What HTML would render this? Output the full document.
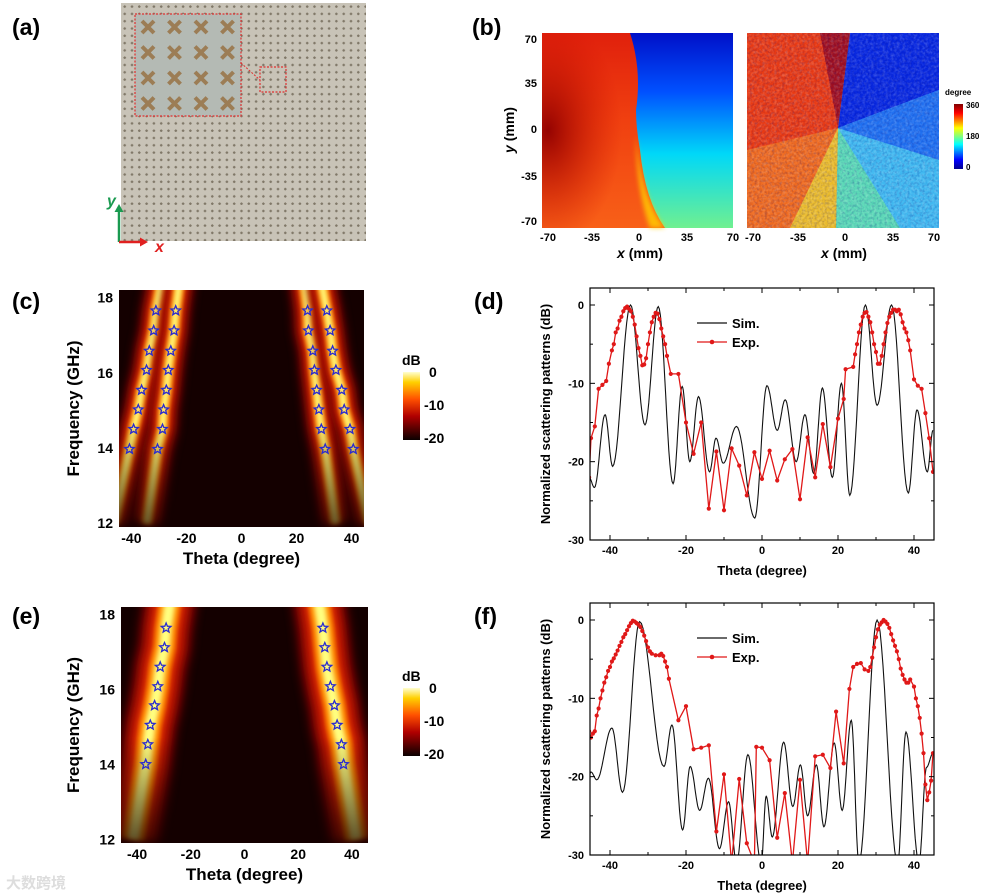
<!DOCTYPE html>
<html><head><meta charset="utf-8"><style>
html,body{margin:0;padding:0;background:#fff;}
svg{display:block;font-family:"Liberation Sans",Arial,sans-serif;font-weight:bold;}
</style></head><body>
<svg id="fig" width="994" height="895" viewBox="0 0 994 895" xmlns="http://www.w3.org/2000/svg">
<defs>
<pattern id="dots" x="121" y="3" width="7.3" height="7.3" patternUnits="userSpaceOnUse"><rect width="7.3" height="7.3" fill="#c8c3b7"/><path d="M2.4 3.6h2.6M3.7 2.3v2.6" stroke="#807868" stroke-width="1.3"/></pattern>
<pattern id="bigx" x="135" y="14" width="26.5" height="25.5" patternUnits="userSpaceOnUse"><rect width="26.5" height="25.5" fill="#b4bab4"/><path d="M7 7l12 12M19 7L7 19" stroke="#9c7d55" stroke-width="4"/></pattern>
<linearGradient id="jet" x1="0" y1="1" x2="0" y2="0"><stop offset="0" stop-color="#00008f"/><stop offset="0.14" stop-color="#0000ff"/><stop offset="0.38" stop-color="#00ffff"/><stop offset="0.5" stop-color="#80ff80"/><stop offset="0.63" stop-color="#ffff00"/><stop offset="0.86" stop-color="#ff0000"/><stop offset="1" stop-color="#800000"/></linearGradient>
<linearGradient id="hot" x1="0" y1="1" x2="0" y2="0"><stop offset="0" stop-color="#0a0000"/><stop offset="0.35" stop-color="#b00000"/><stop offset="0.6" stop-color="#ff5000"/><stop offset="0.85" stop-color="#ffd000"/><stop offset="1" stop-color="#ffffd0"/></linearGradient>
<linearGradient id="mapL1" x1="0" y1="0" x2="0" y2="1"><stop offset="0" stop-color="#e0200c"/><stop offset="0.45" stop-color="#f04010"/><stop offset="1" stop-color="#f86018"/></linearGradient>
<radialGradient id="mapDark" cx="0.05" cy="0.5" r="0.6"><stop offset="0" stop-color="#900000" stop-opacity="0.95"/><stop offset="1" stop-color="#d01000" stop-opacity="0"/></radialGradient>
<linearGradient id="mapR1" x1="0" y1="0" x2="0" y2="1"><stop offset="0" stop-color="#0010c8"/><stop offset="0.3" stop-color="#0050ff"/><stop offset="0.62" stop-color="#00d8f8"/><stop offset="1" stop-color="#70f090"/></linearGradient>
<linearGradient id="fadeG" x1="0" y1="0" x2="0" y2="1"><stop offset="0" stop-color="#fff"/><stop offset="0.55" stop-color="#fff"/><stop offset="1" stop-color="#404040"/></linearGradient>
<mask id="fadeM" maskContentUnits="userSpaceOnUse"><rect x="0" y="280" width="994" height="260" fill="url(#fadeG)"/><rect x="0" y="600" width="994" height="250" fill="url(#fadeG)"/></mask>
<filter id="blur3" filterUnits="userSpaceOnUse" x="0" y="250" width="500" height="645"><feGaussianBlur stdDeviation="5"/></filter>
<filter id="blur2" filterUnits="userSpaceOnUse" x="0" y="0" width="994" height="895"><feGaussianBlur stdDeviation="2.5"/></filter>
<filter id="noise" x="0" y="0" width="1" height="1"><feTurbulence type="fractalNoise" baseFrequency="0.35" numOctaves="2" seed="4"/><feColorMatrix type="matrix" values="0 0 0 0 1  0 0 0 0 1  0 0 0 0 1  1.2 0 0 0 -0.45"/></filter>
<filter id="noiseD" x="0" y="0" width="1" height="1"><feTurbulence type="fractalNoise" baseFrequency="0.4" numOctaves="2" seed="9"/><feColorMatrix type="matrix" values="0 0 0 0 0  0 0 0 0 0  0 0 0 0 0.2  1.3 0 0 0 -0.55"/></filter>
<clipPath id="clipD"><rect x="590" y="288" width="344" height="252"/></clipPath>
<clipPath id="clipF"><rect x="590" y="603" width="344" height="252"/></clipPath>
<clipPath id="clipC"><rect x="119" y="290" width="245" height="237"/></clipPath>
<clipPath id="clipE"><rect x="121" y="607" width="247" height="236"/></clipPath>
<clipPath id="clipMap"><rect x="747" y="33" width="192" height="195"/></clipPath>
</defs>

<g>
<text x="12" y="35" font-size="23">(a)</text>
<rect x="121" y="3" width="245" height="238" fill="url(#dots)"/>
<rect x="135" y="14" width="106" height="102" fill="url(#bigx)" stroke="#e03030" stroke-width="1.2" stroke-dasharray="2,1.5"/>
<rect x="260" y="67" width="26" height="25" fill="none" stroke="#e03030" stroke-width="1.2" stroke-dasharray="2,1.5"/>
<path d="M241 63L260 80" stroke="#e03030" stroke-width="1" stroke-dasharray="2,1.5"/>
<path d="M119 242V210" stroke="#1a9a50" stroke-width="2.5"/><path d="M114.5 212L119 204L123.5 212Z" fill="#1a9a50"/>
<path d="M119 242H142" stroke="#e02020" stroke-width="2.5"/><path d="M140 237.5L148 242L140 246.5Z" fill="#e02020"/>
<text x="107" y="206" font-size="16" font-style="italic" fill="#1a9a50">y</text>
<text x="155" y="252" font-size="16" font-style="italic" fill="#e02020">x</text>
</g>

<g>
<text x="472" y="35" font-size="23">(b)</text>
<g>
<rect x="542" y="33" width="191" height="195" fill="url(#mapR1)"/>
<path d="M542 33H630Q642 70 636 110Q636 128 640 150Q645 200 665 228H542Z" fill="url(#mapL1)"/>
<path d="M542 33H630Q642 70 636 110Q636 128 640 150Q645 200 665 228H542Z" fill="url(#mapDark)"/>
<path d="M636 135Q642 200 665 228H650Q636 190 636 135Z" fill="#ffd000" opacity="0.8" filter="url(#blur2)"/>
</g>
<g clip-path="url(#clipMap)">
<rect x="747" y="33" width="192" height="195" fill="#40b8f0"/>
<path d="M747 33H850L838 128L836 228H747Z" fill="#e83a14"/>
<path d="M850 33H939V90L838 128Z" fill="#0828e0"/>
<path d="M850 33L838 128L820 33Z" fill="#a01020"/>
<path d="M747 150L838 128L836 228H747Z" fill="#f07020" opacity="0.9"/>
<path d="M790 228L838 128L836 228Z" fill="#e8d030" opacity="0.8"/>
<path d="M838 128L939 90V160Z" fill="#2070f0"/>
<path d="M838 128L836 228H900Z" fill="#60e0a8" opacity="0.8"/>
<rect x="747" y="33" width="192" height="195" filter="url(#noise)" opacity="0.35"/>
<rect x="747" y="33" width="192" height="195" filter="url(#noiseD)" opacity="0.4"/>
</g>
<g font-size="11" text-anchor="end">
<text x="537" y="43">70</text><text x="537" y="87">35</text><text x="537" y="133">0</text><text x="537" y="180">-35</text><text x="537" y="225">-70</text>
</g>
<text transform="translate(514,130) rotate(-90)" text-anchor="middle" font-size="14"><tspan font-style="italic">y</tspan> (mm)</text>
<g font-size="11" text-anchor="middle">
<text x="548" y="241">-70</text><text x="592" y="241">-35</text><text x="639" y="241">0</text><text x="687" y="241">35</text><text x="733" y="241">70</text>
</g>
<g font-size="11" text-anchor="middle">
<text x="753" y="241">-70</text><text x="798" y="241">-35</text><text x="845" y="241">0</text><text x="893" y="241">35</text><text x="934" y="241">70</text>
</g>
<text x="640" y="258" text-anchor="middle" font-size="14"><tspan font-style="italic">x</tspan> (mm)</text>
<text x="844" y="258" text-anchor="middle" font-size="14"><tspan font-style="italic">x</tspan> (mm)</text>
<rect x="954" y="104" width="9" height="65" fill="url(#jet)"/>
<text x="945" y="95" font-size="8">degree</text>
<g font-size="8"><text x="966" y="108">360</text><text x="966" y="139">180</text><text x="966" y="170">0</text></g>
</g>

<text x="12" y="309" font-size="23">(c)</text>
<text x="474" y="309" font-size="23">(d)</text>
<text x="12" y="624" font-size="23">(e)</text>
<text x="474" y="624" font-size="23">(f)</text>
<text x="6" y="888" font-size="15" fill="#ddd" font-family="'Liberation Sans','Noto Sans CJK SC',sans-serif">大数跨境</text>
</svg>
<script>
const simD_theta=[-45.5,-44.1,-41.3,-39.3,-34.6,-30.8,-27.3,-23.4,-21,-19,-16.7,-13.8,-12.1,-10.2,-6.7,-1.9,1.3,4,6.1,9,11.3,13.6,15.9,18.5,20.9,23.1,27.2,30.3,34.1,38.5,40.8,43.5,45];
const simD_db=[-22,-23.3,-14,-20.6,0,-15.3,-0.2,-22.8,-10.4,-20,-11.7,-21.3,-17,-20.2,-15.5,-27.2,-10.3,-16,-12.1,-20,-14,-21.5,-10.6,-22,-10,-24.3,0,-12.8,0,-24,-13.4,-21.3,-16];
const expD_theta=[-45.5,-45,-44,-43,-42,-41,-40.3,-39.5,-39,-38.5,-38,-37.5,-37,-36.5,-36,-35.5,-35,-34.5,-34,-33.5,-33,-32.5,-32,-31.5,-31,-30.5,-30,-29.5,-29,-28.5,-28,-27.5,-27,-26.5,-26,-25.5,-25,-24,-22,-20,-18,-16,-14,-12,-10,-8,-6,-4,-2,0,2,4,6,8,10,12,14,16,18,20,21.5,22,24,24.5,25,25.5,26,26.5,27,27.5,28,28.5,29,29.5,30,30.5,31,31.5,32,32.5,33,33.5,34,34.5,35,35.5,36,36.5,37,37.5,38,38.5,39,40,41,42,43,44,45];
const expD_db=[-22,-17,-15.5,-10.7,-10.2,-9.7,-7.5,-5.8,-5,-3.5,-3,-2,-1.5,-0.8,-0.4,-0.2,-0.5,-0.8,-1.5,-2.5,-4,-5.5,-6.5,-7.7,-7.6,-6.8,-5,-3.5,-2.2,-1.5,-1,-1.1,-1.8,-3,-4,-5,-6.5,-8.8,-8.8,-15,-19,-15,-26,-18.7,-26.2,-18.3,-20.5,-24.3,-18.8,-22.2,-18.6,-22.4,-19.7,-18.4,-24.8,-16.9,-22,-15.2,-20.7,-14.5,-12,-8.2,-7.9,-6.3,-5,-3.5,-2.5,-1.5,-1,-0.9,-1.5,-2.2,-3.5,-5,-6,-7.5,-7.5,-6.5,-5,-3.5,-2.3,-1.5,-1,-0.6,-0.6,-0.8,-0.6,-1.2,-2.2,-3,-3.5,-4.5,-5.8,-9.5,-10.3,-10.7,-13.8,-17,-21.3];
const simF_theta=[-45.5,-45,-43.5,-39.5,-36.7,-32.2,-25.8,-23.7,-20.9,-18.9,-16.4,-14.1,-11.2,-8.8,-6.7,-3.7,-0.2,1.1,2.7,5.7,8.1,10.1,12,14.3,16.3,19,21.1,23.5,25.5,30.3,35.7,37.9,41.3,43.3,45];
const simF_db=[-19.8,-19.4,-20.4,-13.8,-22,-0.2,-18.7,-13.4,-26.8,-18.7,-24.3,-20.2,-29.2,-23.2,-31,-17.2,-31,-22.5,-27.7,-15.6,-23.8,-18.5,-25,-18.5,-26.4,-15.7,-24.3,-12.8,-31,0,-31,-14.3,-31,-18.8,-17];
const expF_theta=[-45.5,-45,-44.5,-44,-43.5,-43,-42.5,-42,-41.5,-41,-40.5,-40,-39.5,-39,-38.5,-38,-37.5,-37,-36.5,-36,-35.5,-35,-34.5,-34,-33.5,-33,-32.5,-32,-31.5,-31,-30.5,-30,-29.5,-29,-28,-27,-26.5,-26,-25.5,-25,-24.5,-22,-20,-18,-16,-14,-12,-10,-8,-6,-4,-2,-1.5,0,2,4,6,8,10,12,14,16,18,19.5,21.5,23,24,25,26,27,28,28.5,29,29.5,30,30.5,31,31.5,32,32.5,33,33.5,34,34.5,35,35.5,36,36.5,37,37.5,38,38.5,39,40,40.5,41,41.5,42,42.5,43,43.5,44,44.5,45];
const expF_db=[-14.2,-15,-14.5,-14.2,-12.2,-11.3,-10,-9,-8,-7.3,-6.5,-6,-5.3,-4.9,-4.4,-3.9,-3.3,-2.8,-2.2,-1.8,-1.3,-0.8,-0.4,-0.1,-0.2,-0.4,-0.6,-0.9,-1.4,-2,-2.7,-3.5,-4,-4.3,-4.5,-4.5,-4.3,-4.6,-5.3,-6,-7.5,-12.8,-11,-16.5,-16.3,-16,-27,-19.7,-31,-20.3,-28.5,-31,-16.2,-16.3,-17.9,-27.8,-22.1,-31,-20.4,-31,-17.4,-17.2,-18.9,-11.7,-18.3,-8.8,-6,-5.6,-5.5,-6.3,-6.5,-6,-4.8,-3.5,-2.2,-1.2,-0.6,-0.3,0,-0.2,-0.5,-1,-1.8,-2.6,-3.3,-4,-5,-6.2,-7,-7.6,-8,-8,-7.6,-8.5,-10,-11,-12.5,-14.5,-17,-21,-23,-22,-20.5,-17];
const starFreqC=[17.65,17.12,16.58,16.07,15.54,15.02,14.5,13.97];
const starC_leftOuter=[-31.1,-31.9,-33.5,-34.5,-36.3,-37.5,-39.2,-40.7];
const starC_leftInner=[-23.9,-24.5,-25.7,-26.6,-27.3,-28.3,-28.7,-30.5];
const starC_rightInner=[24,24.3,25.9,26.5,27.3,28.1,29,30.4];
const starC_rightOuter=[31,32.2,33.1,34.3,36.4,37.3,39.4,40.6];
const starFreqE=[17.64,17.12,16.6,16.08,15.57,15.05,14.53,14.0];
const starE_left=[-29.2,-29.8,-31.4,-32.3,-33.5,-35.1,-36,-36.8];
const starE_right=[29.2,29.9,30.7,32,33.5,34.5,36.1,36.9];
const thetaTicks=[-40,-20,0,20,40];
const freqTicks=[12,14,16,18];
const dbTicks=[0,-10,-20,-30];
const cbTicks=["0","-10","-20"];

const NS='http://www.w3.org/2000/svg';
const svg=document.getElementById('fig');
function el(tag,attrs,parent){const e=document.createElementNS(NS,tag);for(const k in attrs)e.setAttribute(k,attrs[k]);(parent||svg).appendChild(e);return e;}
function lin(d0,d1,r0,r1){return v=>r0+(v-d0)*(r1-r0)/(d1-d0);}

function linePlot(name,top,simT,simV,expT,expV,clip){
  const L=590,R=934,B=top+252;
  const sx=lin(-45,45,L+1,R-1), sy=lin(0,-30,top+17,B);
  const g=el('g',{});
  
  
  let d='';
  for(let i=0;i<simT.length-1;i++){
    for(let k=0;k<=14;k++){const t=k/14,e=(1-Math.cos(Math.PI*t))/2;
      const x=simT[i]+(simT[i+1]-simT[i])*t,y=simV[i]+(simV[i+1]-simV[i])*e;
      d+=(i===0&&k===0?'M':'L')+sx(x).toFixed(1)+' '+sy(y).toFixed(1);}
  }
  const sim=el('path',{d:d,fill:'none',stroke:'#111','stroke-width':1.1,'clip-path':'url(#'+clip+')'},g);
  
  
  let d2='';
  expT.forEach((x,i)=>{d2+=(i?'L':'M')+sx(x).toFixed(1)+' '+sy(expV[i]).toFixed(1);});
  const ex=el('path',{d:d2,fill:'none',stroke:'#e01818','stroke-width':1.3,'clip-path':'url(#'+clip+')'},g);
  
  
  const mg=el('g',{fill:'#e01818','clip-path':'url(#'+clip+')'},g);
  
  
  expT.forEach((x,i)=>{const c=el('circle',{cx:sx(x),cy:sy(expV[i]),r:2.1},mg);
    
    });
  const fr=el('rect',{x:L,y:top,width:R-L,height:B-top,fill:'none',stroke:'#000','stroke-width':1.2},g);
  
  
  dbTicks.forEach(v=>{const y=sy(v);
    el('line',{x1:L,x2:L+5,y1:y,y2:y,stroke:'#000'},g);el('line',{x1:R,x2:R-5,y1:y,y2:y,stroke:'#000'},g);
    if(v>-30){el('line',{x1:L,x2:L+3,y1:sy(v-5),y2:sy(v-5),stroke:'#000'},g);el('line',{x1:R,x2:R-3,y1:sy(v-5),y2:sy(v-5),stroke:'#000'},g);}
    const t=el('text',{x:L-6,y:y+4,'font-size':11,'text-anchor':'end'},g);t.textContent=v;
    
    });
  thetaTicks.forEach(v=>{const x=sx(v);
    el('line',{x1:x,x2:x,y1:B,y2:B-5,stroke:'#000'},g);el('line',{x1:x,x2:x,y1:top,y2:top+5,stroke:'#000'},g);
    if(v<40){el('line',{x1:sx(v+10),x2:sx(v+10),y1:B,y2:B-3,stroke:'#000'},g);el('line',{x1:sx(v+10),x2:sx(v+10),y1:top,y2:top+3,stroke:'#000'},g);}
    const t=el('text',{x:x,y:B+14,'font-size':11,'text-anchor':'middle'},g);t.textContent=v;
    
    });
  const xt=el('text',{x:762,y:B+35,'font-size':13,'text-anchor':'middle'},g);xt.textContent='Theta (degree)';
  
  
  const yt=el('text',{transform:'translate(550,'+(top+126)+') rotate(-90)','font-size':13,'text-anchor':'middle'},g);yt.textContent='Normalized scattering patterns (dB)';
  
  
  const lg=el('g',{},g);
  
  
  el('line',{x1:697,x2:727,y1:top+35,y2:top+35,stroke:'#111','stroke-width':1.3},lg);
  const t1=el('text',{x:732,y:top+40,'font-size':13},lg);t1.textContent='Sim.';
  
  
  el('line',{x1:697,x2:727,y1:top+54,y2:top+54,stroke:'#e01818','stroke-width':1.3},lg);
  el('circle',{cx:712,cy:top+54,r:2.3,fill:'#e01818'},lg);
  const t2=el('text',{x:732,y:top+59,'font-size':13},lg);t2.textContent='Exp.';
  
  
}
linePlot('plot-d',288,simD_theta,simD_db,expD_theta,expD_db,'clipD');
linePlot('plot-f',603,simF_theta,simF_db,expF_theta,expF_db,'clipF');

function starPath(cx,cy,r){let d='';for(let i=0;i<10;i++){const a=-Math.PI/2+i*Math.PI/5,rr=i%2?r*0.45:r;d+=(i?'L':'M')+(cx+rr*Math.cos(a)).toFixed(1)+' '+(cy+rr*Math.sin(a)).toFixed(1);}return d+'Z';}
function heatmap(name,L,R,T,B,tmin,tmax,freqs,bands,widths,clip,cbY){
  const sx=lin(tmin,tmax,L,R), sy=lin(18.2,11.9,T,B);
  const g=el('g',{});
  
  
  el('rect',{x:L,y:T,width:R-L,height:B-T,fill:'#140000'},g);
  const bg=el('g',{'clip-path':'url(#'+clip+')'},g);
  const inner=el('g',{mask:'url(#fadeM)'},bg);
  bands.forEach(b=>{
    const n=freqs.length;
    const slope=(b[n-1]-b[0])/(freqs[n-1]-freqs[0]);
    const top=b[0]+slope*(18.5-freqs[0]), bot=b[n-1]+slope*(12.0-freqs[n-1])*1.1;
    let d='M'+sx(top)+' '+sy(18.5);
    freqs.forEach((f,i)=>{d+='L'+sx(b[i]).toFixed(1)+' '+sy(f).toFixed(1);});
    d+='L'+sx(bot)+' '+sy(12.0);
    [[widths[0],'#7a0000',3],[widths[1],'#d82000',3],[widths[2],'#ff8a00',2],[widths[3],'#ffff80',2]].forEach(s=>{
      const p=el('path',{d:d,fill:'none',stroke:s[1],'stroke-width':s[0],'stroke-linecap':'butt',filter:'url(#blur'+s[2]+')'},inner);
      
      
    });
  });
  const sg=el('g',{fill:'none',stroke:'#2a2ad0','stroke-width':1.3},g);
  
  
  bands.forEach(b=>freqs.forEach((f,i)=>{const s=el('path',{d:starPath(sx(b[i]),sy(f),5)},sg);
    
    }));
  freqTicks.forEach(v=>{const t=el('text',{x:L-6,y:sy(v)+5,'font-size':14,'text-anchor':'end'},g);t.textContent=v;
    
    });
  thetaTicks.forEach(v=>{const t=el('text',{x:sx(v),y:B+16,'font-size':14,'text-anchor':'middle'},g);t.textContent=v;
    
    });
  const xt=el('text',{x:(L+R)/2,y:B+37,'font-size':17,'text-anchor':'middle'},g);xt.textContent='Theta (degree)';
  
  
  const yt=el('text',{transform:'translate(79,'+((T+B)/2)+') rotate(-90)','font-size':17,'text-anchor':'middle'},g);yt.textContent='Frequency (GHz)';
  
  
  const cb=el('rect',{x:403,y:cbY,width:17,height:68,fill:'url(#hot)'},g);
  
  
  const cbt=el('text',{x:402,y:cbY-7,'font-size':14},g);cbt.textContent='dB';
  
  
  cbTicks.forEach((v,i)=>{const t=el('text',{x:424+(i?0:5),y:cbY+5+i*33,'font-size':14},g);t.textContent=v;
    
    });
}
heatmap('heatmap-c',119,364,290,527,-44.5,44.5,starFreqC,[starC_leftOuter,starC_leftInner,starC_rightInner,starC_rightOuter],[28,18,11,6],'clipC',372);
heatmap('heatmap-e',121,368,607,843,-46,46,starFreqE,[starE_left,starE_right],[52,36,22,11],'clipE',688);
</script>
</body></html>
